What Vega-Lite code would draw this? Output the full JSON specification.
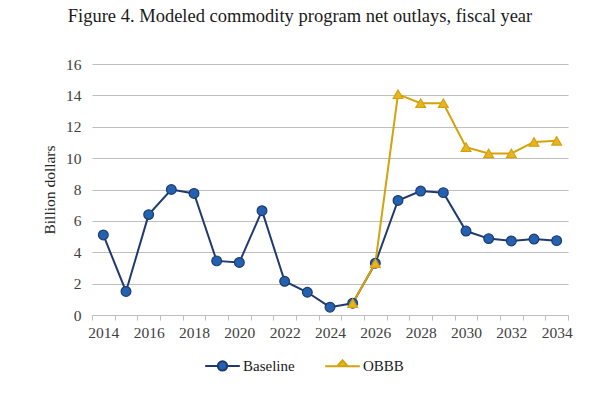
{
  "$schema": "https://vega.github.io/schema/vega-lite/v6.json",
  "autosize": "none",
  "width": 476,
  "height": 251,
  "padding": {"left": 92, "top": 64, "right": 32, "bottom": 84},
  "background": "white",
  "title": {
    "text": "Figure 4. Modeled commodity program net outlays, fiscal year",
    "font": "Liberation Serif",
    "fontSize": 18.5,
    "fontWeight": "normal",
    "color": "#1a1a1a",
    "anchor": "middle",
    "dx": -30,
    "offset": 32
  },
  "data": {
    "values": [
      {"year": 2014, "series": "Baseline", "value": 5.1},
      {"year": 2015, "series": "Baseline", "value": 1.5},
      {"year": 2016, "series": "Baseline", "value": 6.4},
      {"year": 2017, "series": "Baseline", "value": 8.0},
      {"year": 2018, "series": "Baseline", "value": 7.75},
      {"year": 2019, "series": "Baseline", "value": 3.45},
      {"year": 2020, "series": "Baseline", "value": 3.35},
      {"year": 2021, "series": "Baseline", "value": 6.65},
      {"year": 2022, "series": "Baseline", "value": 2.15},
      {"year": 2023, "series": "Baseline", "value": 1.45},
      {"year": 2024, "series": "Baseline", "value": 0.5},
      {"year": 2025, "series": "Baseline", "value": 0.75},
      {"year": 2026, "series": "Baseline", "value": 3.3},
      {"year": 2027, "series": "Baseline", "value": 7.3},
      {"year": 2028, "series": "Baseline", "value": 7.9},
      {"year": 2029, "series": "Baseline", "value": 7.8},
      {"year": 2030, "series": "Baseline", "value": 5.35},
      {"year": 2031, "series": "Baseline", "value": 4.87},
      {"year": 2032, "series": "Baseline", "value": 4.72},
      {"year": 2033, "series": "Baseline", "value": 4.84},
      {"year": 2034, "series": "Baseline", "value": 4.74},
      {"year": 2025, "series": "OBBB", "value": 0.75},
      {"year": 2026, "series": "OBBB", "value": 3.3},
      {"year": 2027, "series": "OBBB", "value": 14.07},
      {"year": 2028, "series": "OBBB", "value": 13.5},
      {"year": 2029, "series": "OBBB", "value": 13.5},
      {"year": 2030, "series": "OBBB", "value": 10.7},
      {"year": 2031, "series": "OBBB", "value": 10.3},
      {"year": 2032, "series": "OBBB", "value": 10.3},
      {"year": 2033, "series": "OBBB", "value": 11.03},
      {"year": 2034, "series": "OBBB", "value": 11.1}
    ]
  },
  "encoding": {
    "x": {
      "field": "year",
      "type": "ordinal",
      "scale": {"type": "band", "paddingInner": 0, "paddingOuter": 0},
      "axis": {
        "title": null,
        "labelAngle": 0,
        "labelFont": "Liberation Serif",
        "labelFontSize": 15.5,
        "labelColor": "#404040",
        "labelPadding": 5,
        "labelExpr": "datum.value % 2 == 0 ? datum.label : ''",
        "tickBand": "extent",
        "tickSize": 5,
        "tickColor": "#BFBFBF",
        "domainColor": "#BFBFBF",
        "grid": false
      }
    },
    "y": {
      "field": "value",
      "type": "quantitative",
      "scale": {"domain": [0, 16], "nice": false},
      "axis": {
        "title": "Billion dollars",
        "titleFont": "Liberation Serif",
        "titleFontSize": 15.5,
        "titleFontWeight": "normal",
        "titleColor": "#262626",
        "titlePadding": 8,
        "values": [0, 2, 4, 6, 8, 10, 12, 14, 16],
        "labelFont": "Liberation Serif",
        "labelFontSize": 15.5,
        "labelColor": "#404040",
        "labelPadding": 11,
        "ticks": false,
        "domain": false,
        "gridColor": "#BFBFBF",
        "gridWidth": 1
      }
    }
  },
  "layer": [
    {
      "mark": {"type": "line", "strokeWidth": 2},
      "encoding": {
        "stroke": {
          "field": "series",
          "type": "nominal",
          "scale": {"domain": ["Baseline", "OBBB"], "range": ["#1F3A6E", "#D4A20A"]},
          "legend": null
        }
      }
    },
    {
      "mark": {"type": "point", "filled": true, "size": 95, "strokeWidth": 1.2, "opacity": 1},
      "encoding": {
        "stroke": {"field": "series", "type": "nominal", "legend": null},
        "fill": {
          "field": "series",
          "type": "nominal",
          "scale": {"domain": ["Baseline", "OBBB"], "range": ["#2362B0", "#E8B424"]},
          "legend": null
        },
        "shape": {
          "field": "series",
          "type": "nominal",
          "scale": {"domain": ["Baseline", "OBBB"], "range": ["circle", "triangle-up"]},
          "legend": null
        }
      }
    },
    {
      "transform": [{"filter": "false"}],
      "mark": {"type": "point", "filled": true, "strokeWidth": 2, "opacity": 1},
      "encoding": {
        "stroke": {"field": "series", "type": "nominal"},
        "fill": {"field": "series", "type": "nominal"},
        "shape": {
          "field": "series",
          "type": "nominal",
          "scale": {"domain": ["Baseline", "OBBB"], "range": ["M-1,0H-0.27A0.27,0.27 0 1,1 0.27,0A0.27,0.27 0 1,1 -0.27,0M0.27,0H1", "M-1,0H-0.3L0,-0.34L0.3,0ZM0.3,0H1"]}
        }
      }
    }
  ],
  "resolve": {
    "scale": {"shape": "independent"},
    "legend": {"fill": "independent", "stroke": "independent", "shape": "independent"}
  },
  "config": {
    "font": "Liberation Serif",
    "view": {"stroke": null},
    "legend": {
      "title": null,
      "orient": "none",
      "legendX": 112,
      "legendY": 283,
      "direction": "horizontal",
      "labelFont": "Liberation Serif",
      "labelFontSize": 15,
      "labelColor": "#1a1a1a",
      "symbolSize": 1200,
      "symbolStrokeWidth": 2,
      "columnPadding": 26,
      "labelOffset": 2
    }
  }
}
